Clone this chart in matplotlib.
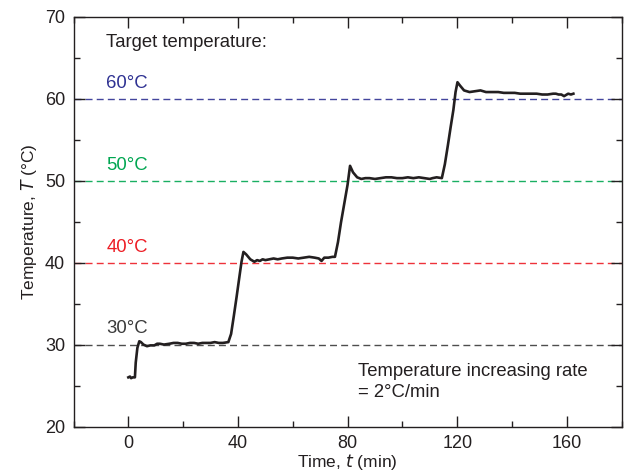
import matplotlib.pyplot as plt
from matplotlib.ticker import MultipleLocator

plt.rcParams["font.family"] = ["Liberation Sans", "DejaVu Sans"]

time_min = [
    0.0, 0.6, 1.0, 1.6, 2.4, 2.7, 3.3, 4.0, 4.6, 5.5, 6.8, 8.0, 9.5, 10.5, 11.5,
    13.0, 15.0, 16.5, 18.0, 19.5, 21.0, 22.5, 24.0, 25.5, 27.0, 28.5, 30.0,
    31.5, 33.0, 34.5, 36.5,
    37.5, 38.5, 39.5, 40.5, 41.3, 42.0, 43.0, 44.5, 46.0, 47.0, 48.0, 49.0,
    50.0, 51.5, 53.0, 54.5, 56.0, 58.0, 60.0, 62.0, 64.0, 66.0, 68.0, 69.5,
    70.5, 71.5, 73.0, 74.5, 75.4,
    76.5, 77.6, 78.8, 80.0, 80.9, 82.0, 83.5, 85.0, 86.5, 88.0, 90.0, 92.0,
    94.0, 96.0, 98.0, 100.0, 102.0, 104.0, 106.0, 108.0, 110.0, 111.0,
    112.5, 114.4,
    115.5, 116.6, 117.6, 118.6, 119.4, 120.1, 121.0, 122.5, 124.5, 126.5,
    128.5, 130.5, 133.0, 135.0, 137.0, 139.0, 141.0, 143.0, 145.0, 147.0,
    149.0, 151.0, 153.0, 155.0, 156.0, 157.0, 158.0, 159.0, 160.5, 161.5,
    162.4,
]
temp_c = [
    26.0, 26.1, 25.9, 26.0, 26.0, 27.8, 29.6, 30.4, 30.3, 30.0, 29.8, 29.9, 29.9, 30.1, 30.1,
    30.0, 30.1, 30.2, 30.2, 30.1, 30.1, 30.2, 30.2, 30.1, 30.2, 30.2, 30.2,
    30.3, 30.2, 30.2, 30.3,
    31.3, 33.5, 35.8, 38.2, 40.1, 41.3, 41.0, 40.4, 40.1, 40.3, 40.2, 40.4,
    40.3, 40.4, 40.5, 40.4, 40.5, 40.6, 40.6, 40.5, 40.6, 40.7, 40.6, 40.5,
    40.2, 40.6, 40.6, 40.7, 40.7,
    42.5, 44.9, 47.2, 49.5, 51.8, 51.0, 50.4, 50.2, 50.3, 50.3, 50.2, 50.3,
    50.4, 50.4, 50.3, 50.3, 50.4, 50.3, 50.4, 50.3, 50.2, 50.3,
    50.4, 50.3,
    52.0, 54.3, 56.5, 58.6, 60.8, 62.0, 61.6, 61.0, 60.8, 60.9,
    61.0, 60.8, 60.8, 60.8, 60.7, 60.7, 60.7, 60.6, 60.6, 60.6,
    60.6, 60.5, 60.5, 60.6, 60.6, 60.5, 60.5, 60.3, 60.6, 60.5,
    60.6,
]

targets = [60, 50, 40, 30]
target_colors = ["#2e3192", "#00a651", "#ed1c24", "#3a3a3a"]
target_labels = ["60°C", "50°C", "40°C", "30°C"]

ink = "#231f20"

fig = plt.figure(figsize=(6.3, 4.75), dpi=100)
ax = fig.add_axes([0.1167, 0.102, 0.870, 0.863])

for temp, color, label in zip(targets, target_colors, target_labels):
    ax.axhline(temp, color=color, lw=1.0, ls=(0, (5, 3)), alpha=0.9, zorder=1)
    ax.text(-8.0, temp + 1.9, label, color=color, fontsize=13.3, va="center", ha="left")

ax.plot(time_min, temp_c, color=ink, lw=1.9, zorder=3)

ax.text(-8.0, 66.9, "Target temperature:", color=ink, fontsize=13.3, va="center")
ax.text(83.8, 26.7, "Temperature increasing rate", color=ink, fontsize=13.3, va="center")
ax.text(83.8, 24.2, "= 2°C/min", color=ink, fontsize=13.3, va="center")

ax.set_xlim(-20, 180)
ax.set_ylim(20, 70)
ax.xaxis.set_major_locator(MultipleLocator(40))
ax.xaxis.set_minor_locator(MultipleLocator(20))
ax.yaxis.set_major_locator(MultipleLocator(10))
ax.yaxis.set_minor_locator(MultipleLocator(5))
ax.tick_params(which="both", direction="in", top=True, right=True,
               labelsize=13, colors=ink, width=1.0)
ax.tick_params(which="major", length=8, pad=6)
ax.tick_params(which="minor", length=4.5)
for spine in ax.spines.values():
    spine.set_linewidth(1.0)
    spine.set_color(ink)

ax.set_xlabel("Time, $t$ (min)", fontsize=12.5, color=ink, labelpad=0)
ax.set_ylabel("Temperature, $T$ (°C)", fontsize=12.5, color=ink, labelpad=4)

fig.savefig("out.png", dpi=100)
